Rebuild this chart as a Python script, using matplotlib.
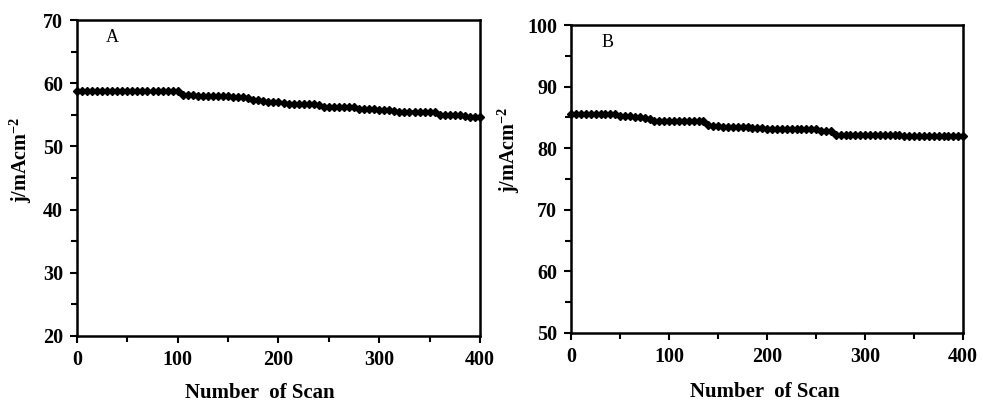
import matplotlib
matplotlib.use("Agg")
import matplotlib.pyplot as plt
import numpy as np
from matplotlib.ticker import MultipleLocator

plt.rcParams['font.family'] = ['Liberation Serif', 'DejaVu Serif']
plt.rcParams['mathtext.fontset'] = 'custom'
plt.rcParams['mathtext.rm'] = 'Liberation Serif'
plt.rcParams['mathtext.bf'] = 'Liberation Serif:bold'

scans = list(range(0, 401, 5))

current_a = [58.8, 58.8, 58.8, 58.8, 58.8, 58.7, 58.7, 58.7, 58.7, 58.7,
             58.7, 58.7, 58.7, 58.7, 58.7, 58.7, 58.7, 58.7, 58.7, 58.7,
             58.7, 58.2, 58.1, 58.1, 58.0, 58.0, 58.0, 58.0, 58.0, 58.0,
             58.0, 57.9, 57.8, 57.8, 57.7, 57.4, 57.3, 57.2, 57.1, 57.1,
             57.0, 56.8, 56.7, 56.7, 56.7, 56.7, 56.7, 56.7, 56.6, 56.3,
             56.3, 56.3, 56.3, 56.3, 56.3, 56.2, 55.9, 55.9, 55.9, 55.9,
             55.8, 55.8, 55.8, 55.6, 55.5, 55.5, 55.5, 55.5, 55.5, 55.5,
             55.5, 55.4, 54.9, 54.9, 54.9, 54.9, 54.9, 54.8, 54.6, 54.6,
             54.6]

current_b = [85.5, 85.5, 85.5, 85.5, 85.5, 85.5, 85.5, 85.5, 85.5, 85.5,
             85.2, 85.2, 85.2, 85.1, 85.0, 84.9, 84.7, 84.4, 84.4, 84.4,
             84.4, 84.4, 84.4, 84.4, 84.4, 84.4, 84.4, 84.4, 83.7, 83.6,
             83.6, 83.4, 83.4, 83.4, 83.4, 83.4, 83.4, 83.3, 83.3, 83.3,
             83.2, 83.1, 83.1, 83.1, 83.1, 83.1, 83.1, 83.1, 83.1, 83.1,
             83.1, 82.8, 82.8, 82.8, 82.2, 82.2, 82.2, 82.2, 82.2, 82.2,
             82.2, 82.2, 82.2, 82.2, 82.2, 82.2, 82.2, 82.2, 82.0, 82.0,
             82.0, 82.0, 82.0, 82.0, 82.0, 82.0, 82.0, 82.0, 82.0, 82.0,
             82.0]

label_data = {'A': current_a, 'B': current_b}

fig = plt.figure(figsize=(9.83, 4.05), dpi=100)
axA = fig.add_axes([0.0783, 0.1704, 0.410, 0.780])
axB = fig.add_axes([0.581, 0.178, 0.3988, 0.760])

def style(ax, ylim, label, lx, ly):
    ax.plot(scans, label_data[label], color='black', marker='D', markersize=4.3,
            linewidth=1.8, clip_on=False, zorder=3)
    ax.set_xlim(0, 400)
    ax.set_ylim(*ylim)
    ax.xaxis.set_major_locator(MultipleLocator(100))
    ax.xaxis.set_minor_locator(MultipleLocator(50))
    ax.yaxis.set_major_locator(MultipleLocator(10))
    ax.yaxis.set_minor_locator(MultipleLocator(5))
    ax.tick_params(which='both', direction='out', width=1.5, labelsize=14.5, pad=5)
    ax.tick_params(which='major', length=5)
    ax.tick_params(which='minor', length=4)
    for lab in ax.get_xticklabels() + ax.get_yticklabels():
        lab.set_fontweight('bold')
    for s in ax.spines.values():
        s.set_linewidth(1.8)
    ax.set_xlabel('Number  of Scan', fontsize=15, fontweight='bold')
    ax.set_ylabel('$\\mathbf{j/mAcm^{-2}}$', fontsize=14.5)
    ax.text(lx, ly, label, fontsize=13, ha='center', va='center')

style(axA, (20, 70), 'A', 35, 67.2)
style(axB, (50, 100), 'B', 37, 97.2)
axA.xaxis.set_label_coords(0.454, -0.148)
axB.xaxis.set_label_coords(0.495, -0.16)
axA.yaxis.set_label_coords(-0.106, 0.557)
axB.yaxis.set_label_coords(-0.125, 0.594)

fig.savefig('out.png', dpi=100)
